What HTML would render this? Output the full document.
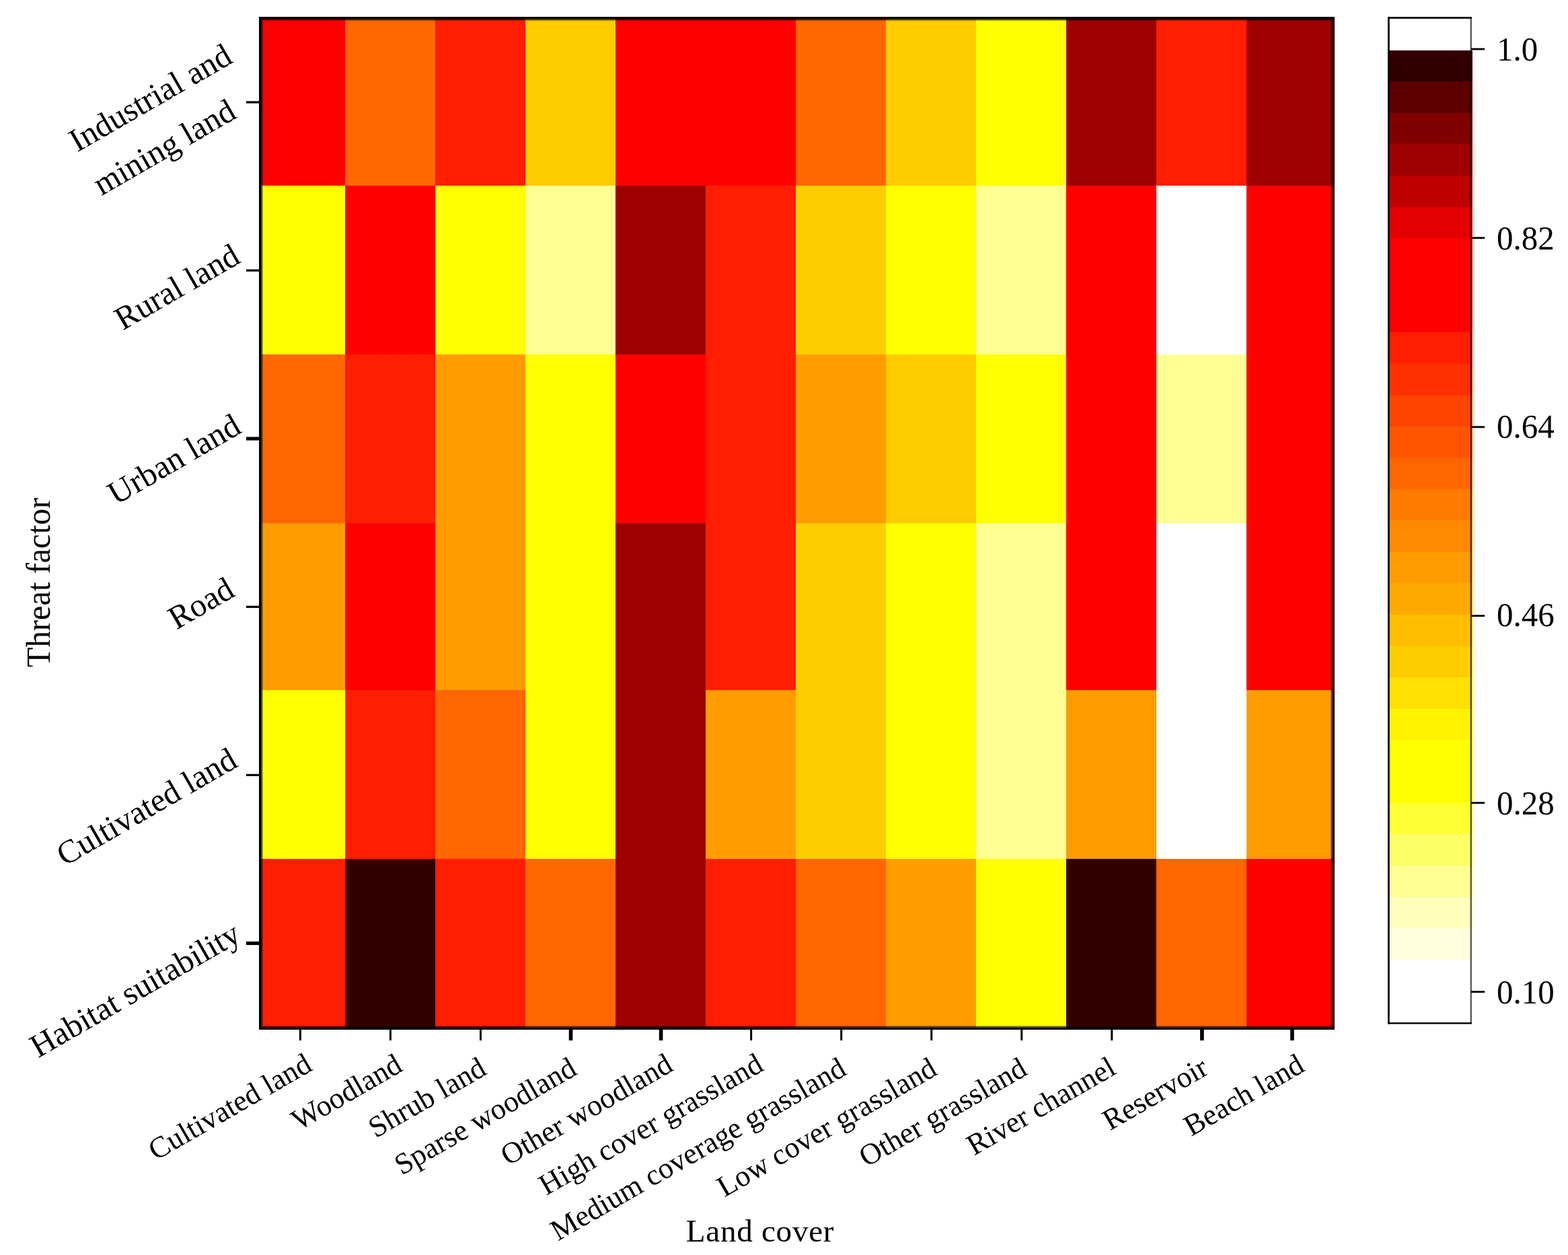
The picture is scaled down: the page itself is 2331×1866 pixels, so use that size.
<!DOCTYPE html>
<html lang="en"><head><meta charset="utf-8">
<title>Threat factor / land cover heatmap</title>
<style>
html,body{margin:0;padding:0;background:#fff;}
body{width:2331px;height:1866px;}
svg{display:block;font-family:"Liberation Serif", "DejaVu Serif", serif;font-size:48.6px;fill:#000;}
text{white-space:pre;}
</style></head><body>
<svg width="2331" height="1866" viewBox="0 0 2331 1866" role="img" aria-label="Heat map of threat factor sensitivity by land cover">
<rect x="0" y="0" width="2331" height="1866" fill="#ffffff"/>
<clipPath id="pc"><rect x="385.0" y="25.0" width="1599.0" height="1506.0"/></clipPath>
<g clip-path="url(#pc)" shape-rendering="crispEdges">
<rect x="379.42" y="25.00" width="134.76" height="251.80" fill="#FF0000"/>
<rect x="513.38" y="25.00" width="134.76" height="251.80" fill="#FF6600"/>
<rect x="647.34" y="25.00" width="134.76" height="251.80" fill="#FF1E00"/>
<rect x="781.30" y="25.00" width="134.76" height="251.80" fill="#FFCC00"/>
<rect x="915.26" y="25.00" width="134.76" height="251.80" fill="#FF0000"/>
<rect x="1049.22" y="25.00" width="134.76" height="251.80" fill="#FF0000"/>
<rect x="1183.18" y="25.00" width="134.76" height="251.80" fill="#FF6600"/>
<rect x="1317.14" y="25.00" width="134.76" height="251.80" fill="#FFCC00"/>
<rect x="1451.10" y="25.00" width="134.76" height="251.80" fill="#FFFF00"/>
<rect x="1585.06" y="25.00" width="134.76" height="251.80" fill="#9E0000"/>
<rect x="1719.02" y="25.00" width="134.76" height="251.80" fill="#FF1E00"/>
<rect x="1852.98" y="25.00" width="134.76" height="251.80" fill="#9E0000"/>
<rect x="379.42" y="276.00" width="134.76" height="251.70" fill="#FFFF00"/>
<rect x="513.38" y="276.00" width="134.76" height="251.70" fill="#FF0000"/>
<rect x="647.34" y="276.00" width="134.76" height="251.70" fill="#FFFF00"/>
<rect x="781.30" y="276.00" width="134.76" height="251.70" fill="#FFFF94"/>
<rect x="915.26" y="276.00" width="134.76" height="251.70" fill="#9E0000"/>
<rect x="1049.22" y="276.00" width="134.76" height="251.70" fill="#FF1E00"/>
<rect x="1183.18" y="276.00" width="134.76" height="251.70" fill="#FFCC00"/>
<rect x="1317.14" y="276.00" width="134.76" height="251.70" fill="#FFFF00"/>
<rect x="1451.10" y="276.00" width="134.76" height="251.70" fill="#FFFF94"/>
<rect x="1585.06" y="276.00" width="134.76" height="251.70" fill="#FF0000"/>
<rect x="1719.02" y="276.00" width="134.76" height="251.70" fill="#FFFFFF"/>
<rect x="1852.98" y="276.00" width="134.76" height="251.70" fill="#FF0000"/>
<rect x="379.42" y="526.90" width="134.76" height="251.90" fill="#FF6600"/>
<rect x="513.38" y="526.90" width="134.76" height="251.90" fill="#FF1E00"/>
<rect x="647.34" y="526.90" width="134.76" height="251.90" fill="#FF9C00"/>
<rect x="781.30" y="526.90" width="134.76" height="251.90" fill="#FFFF00"/>
<rect x="915.26" y="526.90" width="134.76" height="251.90" fill="#FF0000"/>
<rect x="1049.22" y="526.90" width="134.76" height="251.90" fill="#FF1E00"/>
<rect x="1183.18" y="526.90" width="134.76" height="251.90" fill="#FF9C00"/>
<rect x="1317.14" y="526.90" width="134.76" height="251.90" fill="#FFCC00"/>
<rect x="1451.10" y="526.90" width="134.76" height="251.90" fill="#FFFF00"/>
<rect x="1585.06" y="526.90" width="134.76" height="251.90" fill="#FF0000"/>
<rect x="1719.02" y="526.90" width="134.76" height="251.90" fill="#FFFF94"/>
<rect x="1852.98" y="526.90" width="134.76" height="251.90" fill="#FF0000"/>
<rect x="379.42" y="778.00" width="134.76" height="248.70" fill="#FF9C00"/>
<rect x="513.38" y="778.00" width="134.76" height="248.70" fill="#FF0000"/>
<rect x="647.34" y="778.00" width="134.76" height="248.70" fill="#FF9C00"/>
<rect x="781.30" y="778.00" width="134.76" height="248.70" fill="#FFFF00"/>
<rect x="915.26" y="778.00" width="134.76" height="248.70" fill="#9E0000"/>
<rect x="1049.22" y="778.00" width="134.76" height="248.70" fill="#FF1E00"/>
<rect x="1183.18" y="778.00" width="134.76" height="248.70" fill="#FFCC00"/>
<rect x="1317.14" y="778.00" width="134.76" height="248.70" fill="#FFFF00"/>
<rect x="1451.10" y="778.00" width="134.76" height="248.70" fill="#FFFF94"/>
<rect x="1585.06" y="778.00" width="134.76" height="248.70" fill="#FF0000"/>
<rect x="1719.02" y="778.00" width="134.76" height="248.70" fill="#FFFFFF"/>
<rect x="1852.98" y="778.00" width="134.76" height="248.70" fill="#FF0000"/>
<rect x="379.42" y="1025.90" width="134.76" height="251.80" fill="#FFFF00"/>
<rect x="513.38" y="1025.90" width="134.76" height="251.80" fill="#FF1E00"/>
<rect x="647.34" y="1025.90" width="134.76" height="251.80" fill="#FF6600"/>
<rect x="781.30" y="1025.90" width="134.76" height="251.80" fill="#FFFF00"/>
<rect x="915.26" y="1025.90" width="134.76" height="251.80" fill="#9E0000"/>
<rect x="1049.22" y="1025.90" width="134.76" height="251.80" fill="#FF9C00"/>
<rect x="1183.18" y="1025.90" width="134.76" height="251.80" fill="#FFCC00"/>
<rect x="1317.14" y="1025.90" width="134.76" height="251.80" fill="#FFFF00"/>
<rect x="1451.10" y="1025.90" width="134.76" height="251.80" fill="#FFFF94"/>
<rect x="1585.06" y="1025.90" width="134.76" height="251.80" fill="#FF9C00"/>
<rect x="1719.02" y="1025.90" width="134.76" height="251.80" fill="#FFFFFF"/>
<rect x="1852.98" y="1025.90" width="134.76" height="251.80" fill="#FF9C00"/>
<rect x="379.42" y="1276.90" width="134.76" height="254.90" fill="#FF1E00"/>
<rect x="513.38" y="1276.90" width="134.76" height="254.90" fill="#330000"/>
<rect x="647.34" y="1276.90" width="134.76" height="254.90" fill="#FF1E00"/>
<rect x="781.30" y="1276.90" width="134.76" height="254.90" fill="#FF6600"/>
<rect x="915.26" y="1276.90" width="134.76" height="254.90" fill="#9E0000"/>
<rect x="1049.22" y="1276.90" width="134.76" height="254.90" fill="#FF1E00"/>
<rect x="1183.18" y="1276.90" width="134.76" height="254.90" fill="#FF6600"/>
<rect x="1317.14" y="1276.90" width="134.76" height="254.90" fill="#FF9C00"/>
<rect x="1451.10" y="1276.90" width="134.76" height="254.90" fill="#FFFF00"/>
<rect x="1585.06" y="1276.90" width="134.76" height="254.90" fill="#330000"/>
<rect x="1719.02" y="1276.90" width="134.76" height="254.90" fill="#FF6600"/>
<rect x="1852.98" y="1276.90" width="134.76" height="254.90" fill="#FF0000"/>
</g>
<rect x="390.60" y="30.60" width="1587.80" height="1494.80" fill="none" stroke="#000" stroke-opacity="0.25" stroke-width="0.8"/>
<rect x="389.70" y="29.70" width="1589.60" height="1496.60" fill="none" stroke="#000" stroke-opacity="0.55" stroke-width="1.0"/>
<rect x="388.80" y="28.80" width="1591.40" height="1498.40" fill="none" stroke="#000" stroke-opacity="0.85" stroke-width="1.0"/>
<rect x="386.65" y="26.65" width="1595.7" height="1502.7" fill="none" stroke="#000" stroke-width="3.3"/>
<g fill="#000">
<rect x="444.90" y="1530.0" width="3.0" height="17"/>
<rect x="578.95" y="1530.0" width="3.0" height="17"/>
<rect x="713.00" y="1530.0" width="3.0" height="17"/>
<rect x="845.75" y="1530.0" width="5.6" height="17"/>
<rect x="979.80" y="1530.0" width="5.6" height="17"/>
<rect x="1115.15" y="1530.0" width="3.0" height="17"/>
<rect x="1249.20" y="1530.0" width="3.0" height="17"/>
<rect x="1383.25" y="1530.0" width="3.0" height="17"/>
<rect x="1517.30" y="1530.0" width="3.0" height="17"/>
<rect x="1651.35" y="1530.0" width="3.0" height="17"/>
<rect x="1784.10" y="1530.0" width="5.6" height="17"/>
<rect x="1918.15" y="1530.0" width="5.6" height="17"/>
<rect x="366" y="150.40" width="20.0" height="3.2"/>
<rect x="366" y="400.50" width="20.0" height="3.2"/>
<rect x="366" y="649.60" width="20.0" height="5.2"/>
<rect x="366" y="900.70" width="20.0" height="3.2"/>
<rect x="366" y="1150.80" width="20.0" height="3.2"/>
<rect x="366" y="1399.90" width="20.0" height="5.2"/>
</g>
<g text-anchor="end" font-size="44.2">
<text transform="translate(466.4,1590.4) rotate(-30)">Cultivated land</text>
<text transform="translate(600.7,1591.25) rotate(-30)">Woodland</text>
<text transform="translate(725.45,1596.3) rotate(-30)">Shrub land</text>
<text transform="translate(859.85,1596.35) rotate(-30)">Sparse woodland</text>
<text transform="translate(1003,1590.75) rotate(-30)">Other woodland</text>
<text transform="translate(1137.3,1590.35) rotate(-30)">High cover grassland</text>
<text transform="translate(1260.6,1596.65) rotate(-30)">Medium coverage grassland</text>
<text transform="translate(1395.45,1596.6) rotate(-30)">Low cover grassland</text>
<text transform="translate(1529.35,1596.6) rotate(-30)">Other grassland</text>
<text transform="translate(1661.6,1595.45) rotate(-30)">River channel</text>
<text transform="translate(1798.8,1595.65) rotate(-30)">Reservoir</text>
<text transform="translate(1941.75,1591.4) rotate(-30)">Beach land</text>
</g>
<g text-anchor="end" font-size="48.8">
<text transform="translate(348.2,92) rotate(-30)">Industrial and</text>
<text transform="translate(353.8,174.2) rotate(-30)">mining land</text>
<text transform="translate(359.65,389.45) rotate(-30)">Rural land</text>
<text transform="translate(361.1,642.35) rotate(-30)">Urban land</text>
<text transform="translate(351.4,885.25) rotate(-30)">Road</text>
<text transform="translate(355.55,1138.7) rotate(-30)">Cultivated land</text>
<text transform="translate(360.75,1397.9) rotate(-30)">Habitat suitability</text>
</g>
<text x="1130.0" y="1846.2" text-anchor="middle" font-size="47.2" letter-spacing="0.7">Land cover</text>
<text transform="translate(73.8,866.2) rotate(-90) scale(1,1.05)" text-anchor="middle">Threat factor</text>
<g shape-rendering="crispEdges">
<rect x="2063.0" y="74.60" width="125.5" height="47.23" fill="#330000"/>
<rect x="2063.0" y="121.23" width="125.5" height="47.23" fill="#5C0000"/>
<rect x="2063.0" y="167.86" width="125.5" height="47.23" fill="#800000"/>
<rect x="2063.0" y="214.49" width="125.5" height="47.23" fill="#9E0000"/>
<rect x="2063.0" y="261.12" width="125.5" height="47.23" fill="#BF0000"/>
<rect x="2063.0" y="307.75" width="125.5" height="47.23" fill="#E30000"/>
<rect x="2063.0" y="354.38" width="125.5" height="47.23" fill="#FF0000"/>
<rect x="2063.0" y="401.01" width="125.5" height="47.23" fill="#FF0000"/>
<rect x="2063.0" y="447.64" width="125.5" height="47.23" fill="#FF0000"/>
<rect x="2063.0" y="494.27" width="125.5" height="47.23" fill="#FF1E00"/>
<rect x="2063.0" y="540.90" width="125.5" height="47.23" fill="#FF3000"/>
<rect x="2063.0" y="587.53" width="125.5" height="47.23" fill="#FF4400"/>
<rect x="2063.0" y="634.16" width="125.5" height="47.23" fill="#FF5500"/>
<rect x="2063.0" y="680.79" width="125.5" height="47.23" fill="#FF6600"/>
<rect x="2063.0" y="727.42" width="125.5" height="47.23" fill="#FF7C00"/>
<rect x="2063.0" y="774.05" width="125.5" height="47.23" fill="#FF8A00"/>
<rect x="2063.0" y="820.68" width="125.5" height="47.23" fill="#FF9C00"/>
<rect x="2063.0" y="867.31" width="125.5" height="47.23" fill="#FFAA00"/>
<rect x="2063.0" y="913.94" width="125.5" height="47.23" fill="#FFBE00"/>
<rect x="2063.0" y="960.57" width="125.5" height="47.23" fill="#FFCC00"/>
<rect x="2063.0" y="1007.20" width="125.5" height="47.23" fill="#FFE000"/>
<rect x="2063.0" y="1053.83" width="125.5" height="47.23" fill="#FFF200"/>
<rect x="2063.0" y="1100.46" width="125.5" height="47.23" fill="#FFFF00"/>
<rect x="2063.0" y="1147.09" width="125.5" height="47.23" fill="#FFFF00"/>
<rect x="2063.0" y="1193.72" width="125.5" height="47.23" fill="#FFFF33"/>
<rect x="2063.0" y="1240.35" width="125.5" height="47.23" fill="#FFFF66"/>
<rect x="2063.0" y="1286.98" width="125.5" height="47.23" fill="#FFFF94"/>
<rect x="2063.0" y="1333.61" width="125.5" height="47.23" fill="#FFFFBB"/>
<rect x="2063.0" y="1380.24" width="125.5" height="47.23" fill="#FFFFDD"/>
<rect x="2063.0" y="1426.87" width="125.5" height="47.23" fill="#FFFFFF"/>
</g>
<rect x="2063.0" y="25.1" width="124.9" height="2.7" fill="#000"/>
<rect x="2063.0" y="1520.20" width="124.9" height="2.4" fill="#000"/>
<rect x="2063.0" y="25.1" width="2.8" height="1497.5" fill="#000"/>
<rect x="2185.60" y="25.1" width="2.3" height="1497.5" fill="#000" fill-opacity="0.68"/>
<g fill="#000">
<rect x="2187.00" y="71.60" width="20.20" height="2.8"/>
<rect x="2187.00" y="352.35" width="20.20" height="2.8"/>
<rect x="2187.00" y="633.50" width="20.20" height="2.8"/>
<rect x="2187.00" y="914.20" width="20.20" height="2.8"/>
<rect x="2187.00" y="1192.40" width="20.20" height="2.8"/>
<rect x="2187.00" y="1473.30" width="20.20" height="2.8"/>
</g>
<g font-size="49">
<text transform="translate(2225.0,89.90) scale(1,1.05)">1.0</text>
<text transform="translate(2225.0,370.65) scale(1,1.05)">0.82</text>
<text transform="translate(2225.0,651.05) scale(1,1.05)">0.64</text>
<text transform="translate(2225.0,931.20) scale(1,1.05)">0.46</text>
<text transform="translate(2225.0,1210.85) scale(1,1.05)">0.28</text>
<text transform="translate(2225.0,1491.75) scale(1,1.05)">0.10</text>
</g>
</svg>
</body></html>
